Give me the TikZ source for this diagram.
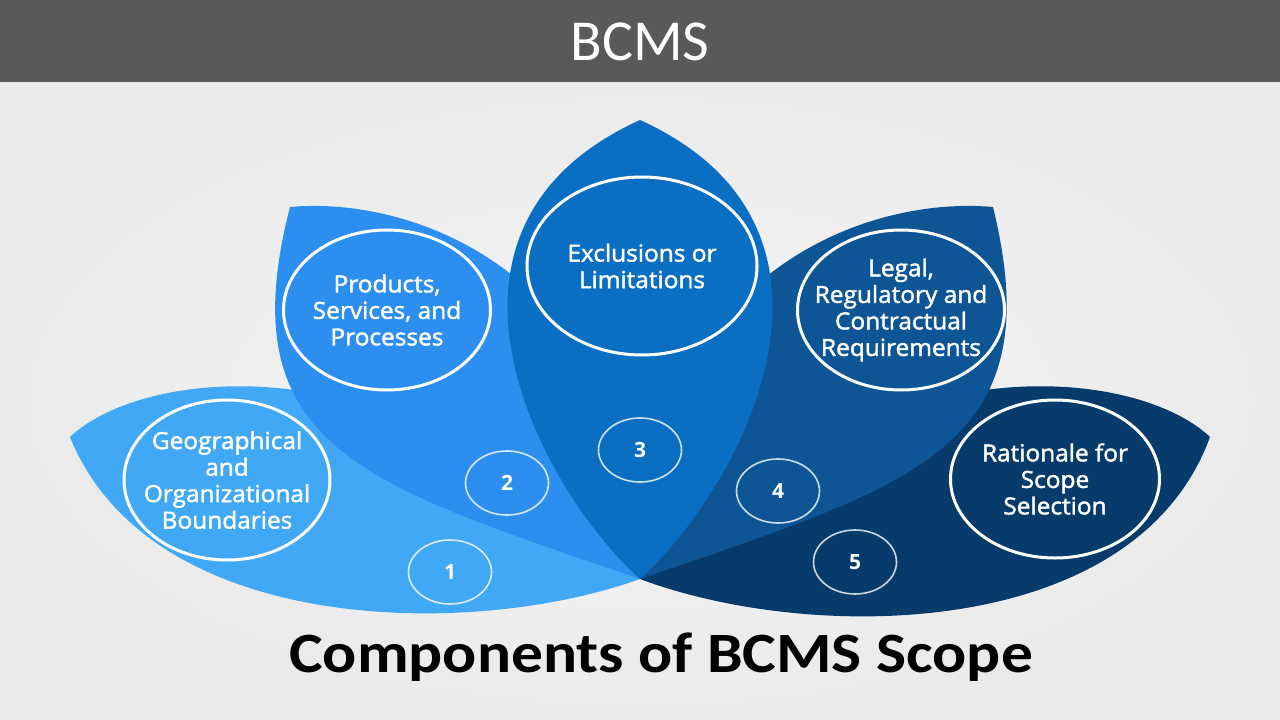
\documentclass[tikz,border=0pt]{standalone}
\usepackage{fontspec}
\usetikzlibrary{shapes.geometric}
\newfontfamily\circfont[FakeBold=1.8,FakeStretch=1.04]{Open Sans}
\newfontfamily\numfont{Open Sans}
\newfontfamily\titlefont[FakeStretch=1.115]{Carlito}
\newfontfamily\headfont{Carlito}
\definecolor{barc}{HTML}{595959}
\definecolor{bgin}{HTML}{F7F7F7}
\definecolor{bgout}{HTML}{EAEAEA}
\definecolor{pa}{HTML}{41A8F5}
\definecolor{pb}{HTML}{2C8FEF}
\definecolor{pc}{HTML}{0A6FC2}
\definecolor{pd}{HTML}{0E5596}
\definecolor{pe}{HTML}{063B6B}
\begin{document}
\begin{tikzpicture}[x=1pt,y=-1pt,
  bigc/.style={ellipse, draw=white, line width=3pt, inner sep=0pt},
  numc/.style={ellipse, draw=white, draw opacity=0.8, line width=1.6pt, inner sep=0pt,
    minimum width=83pt, minimum height=64pt, text=white,
    font=\numfont\bfseries\fontsize{21}{21}\selectfont},
  lbl/.style={align=center, text=white, inner sep=0pt,
    font=\circfont\fontsize{23.5}{26.5}\selectfont}]
\useasboundingbox (0,0) rectangle (1280,720);
% background
\shade[inner color=bgin, outer color=bgout] (0,82) rectangle (1280,720);
\fill[barc] (0,0) rectangle (1280,82);
\node[font=\headfont\fontsize{58}{58}\selectfont, text=white, anchor=base] (head) at (640,60) {BCMS};
% petals
\fill[pa] (640,579) .. controls (470,640) and (150,635) .. (70,437)
  .. controls (140,370) and (400,330) .. (640,579) -- cycle;
\fill[pe] (640,579) .. controls (810,643) and (1135,642) .. (1210,437)
  .. controls (1140,370) and (880,330) .. (640,579) -- cycle;
\fill[pb] (640,579) .. controls (365.6,484.5) and (227.5,449.5) .. (290,207)
  .. controls (420,195) and (640,280) .. (640,579) -- cycle;
\fill[pd] (640,579) .. controls (914.4,484.5) and (1052.5,449.5) .. (993,207)
  .. controls (860,195) and (640,280) .. (640,579) -- cycle;
\fill[pc] (640,579) .. controls (540,489) and (400,229) .. (640,120)
  .. controls (880,229) and (740,489) .. (640,579) -- cycle;
% big circles
\node[bigc, minimum width=206pt, minimum height=160pt] (c1) at (227,480) {};
\node[bigc, minimum width=207pt, minimum height=160pt] (c2) at (387,310) {};
\node[bigc, minimum width=230pt, minimum height=178pt] (c3) at (642,266) {};
\node[bigc, minimum width=207pt, minimum height=160pt] (c4) at (901,310) {};
\node[bigc, minimum width=209pt, minimum height=158pt] (c5) at (1055,479) {};
\node[lbl] (t1) at (c1.center) {Geographical\\and\\Organizational\\Boundaries};
\node[lbl] (t2) at (c2.center) {Products,\\Services, and\\Processes};
\node[lbl] (t3) at (c3.center) {Exclusions or\\Limitations};
\node[lbl] (t4) at (c4.center) {Legal,\\Regulatory and\\Contractual\\Requirements};
\node[lbl] (t5) at (c5.center) {Rationale for\\Scope\\Selection};
% number circles
\node[numc] (n1) at (450,572) {1};
\node[numc] (n2) at (507,483) {2};
\node[numc] (n3) at (640,450) {3};
\node[numc] (n4) at (778,491) {4};
\node[numc] (n5) at (855,562) {5};
% title
\node[font=\titlefont\bfseries\fontsize{57}{57}\selectfont, anchor=base, inner sep=0pt] (title) at (661,672) {Components of BCMS Scope};
\end{tikzpicture}
\end{document}
